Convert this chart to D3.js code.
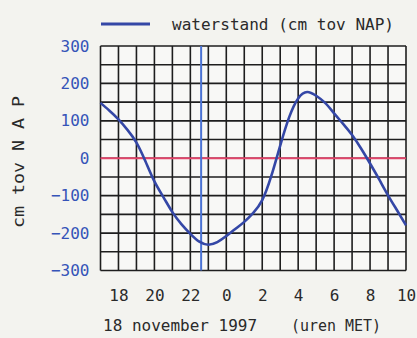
<!DOCTYPE html>
<html><head><meta charset="utf-8">
<script src="https://cdn.jsdelivr.net/npm/d3@7/dist/d3.min.js"></script>
<style>
html,body{margin:0;padding:0;background:#f3f3ef;}
svg{display:block;}
text{font-family:"DejaVu Sans Mono",monospace;}
</style></head><body>
<svg id="c" width="417" height="338"></svg>
<script>
// hours since 18 nov 00:00 (24 = 0h on 19 nov)
const times = [17,17.5,18,18.5,19,19.5,20,20.5,21,21.5,22,22.5,23,23.5,24,24.5,25,25.5,26,26.5,27,27.5,28,28.5,29,29.5,30,30.5,31,31.5,32,32.5,33,33.5,34];
const waterstand = [148,127,104,76,42,-8,-62,-104,-144,-176,-202,-223,-231,-224,-208,-189,-170,-146,-112,-48,34,110,160,177,167,148,120,92,62,26,-14,-56,-99,-139,-179];
const xTicks = [18,20,22,24,26,28,30,32,34];
const yTicks = [-300,-200,-100,0,100,200,300];
const nowTime = 22.6;
const seriesLabel = "waterstand (cm tov NAP)";
const yTitle = "cm  tov  N A P";
const xTitle1 = "18 november 1997";
const xTitle2 = "(uren MET)";

const svg = d3.select("#c");
const L=100.5, R=406, T=46, B=270.5;
const x = d3.scaleLinear().domain([17,34]).range([L,R]);
const y = d3.scaleLinear().domain([-300,300]).range([B,T]);

svg.append("rect").attr("width",417).attr("height",338).attr("fill","#f3f3ef");
svg.append("rect").attr("x",L).attr("y",T).attr("width",R-L).attr("height",B-T).attr("fill","#f8f8f6");

// grid
const g = svg.append("g");
g.selectAll(".vg").data(d3.range(17,35,1)).join("line")
  .attr("x1",d=>x(d)).attr("x2",d=>x(d)).attr("y1",T).attr("y2",B)
  .attr("stroke","#1e1e1e").attr("stroke-width",1.6);
g.selectAll(".hg").data(d3.range(-300,301,50)).join("line")
  .attr("x1",L).attr("x2",R).attr("y1",d=>y(d)).attr("y2",d=>y(d))
  .attr("stroke","#1e1e1e").attr("stroke-width",1.6);

// zero line
svg.append("line").attr("x1",L).attr("x2",R).attr("y1",y(0)).attr("y2",y(0))
  .attr("stroke","#e2446a").attr("stroke-width",2.2);

// now marker
svg.append("line").attr("x1",x(nowTime)).attr("x2",x(nowTime)).attr("y1",T).attr("y2",B)
  .attr("stroke","#4a72d4").attr("stroke-width",2);

// curve
const line = d3.line().x((d,i)=>x(times[i])).y(d=>y(d)).curve(d3.curveNatural);
svg.append("path").datum(waterstand).attr("d",line)
  .attr("fill","none").attr("stroke","#3447a6").attr("stroke-width",2.6);

// axes
const xa = svg.append("g").attr("transform",`translate(0,${B})`)
  .call(d3.axisBottom(x).tickValues(xTicks).tickSize(0).tickPadding(19).tickFormat(d=>String(d%24)));
xa.select(".domain").remove();
xa.selectAll("text").attr("font-size",16).attr("fill","#2a2a2a").attr("font-family","DejaVu Sans Mono");

const ya = svg.append("g").attr("transform",`translate(${L},0)`)
  .call(d3.axisLeft(y).tickValues(yTicks).tickSize(0).tickPadding(11));
ya.select(".domain").remove();
ya.selectAll("text").attr("font-size",16).attr("fill","#3553b8").attr("font-family","DejaVu Sans Mono");

// legend
svg.append("line").attr("x1",101).attr("x2",150).attr("y1",24).attr("y2",24)
  .attr("stroke","#3447a6").attr("stroke-width",3);
svg.append("text").attr("x",172).attr("y",30).attr("font-size",16).attr("fill","#2a2a2a")
  .attr("textLength",222).attr("lengthAdjust","spacingAndGlyphs").text(seriesLabel);

// x titles
svg.append("text").attr("x",103).attr("y",331).attr("font-size",16).attr("fill","#2a2a2a")
  .attr("textLength",154).attr("lengthAdjust","spacingAndGlyphs").text(xTitle1);
svg.append("text").attr("x",291).attr("y",331).attr("font-size",16).attr("fill","#2a2a2a")
  .attr("textLength",90).attr("lengthAdjust","spacingAndGlyphs").text(xTitle2);

// y title
svg.append("text").attr("transform","translate(24,162) rotate(-90)").attr("text-anchor","middle")
  .attr("font-size",16).attr("fill","#2a2a2a")
  .attr("textLength",132).attr("lengthAdjust","spacingAndGlyphs").text(yTitle);
</script>
</body></html>
